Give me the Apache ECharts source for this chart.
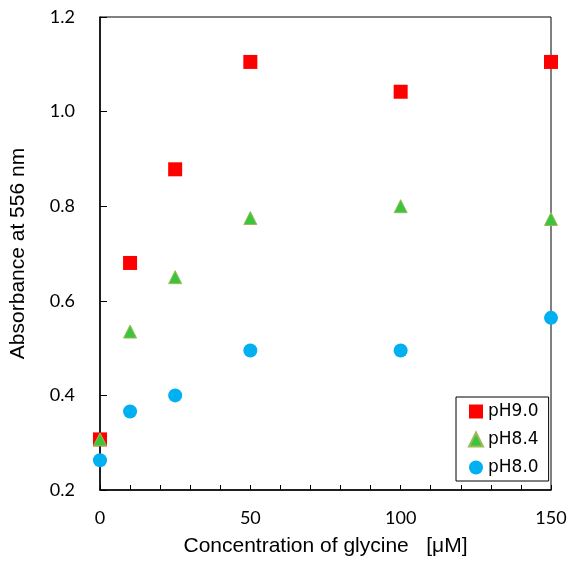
<!DOCTYPE html>
<html>
<head>
<meta charset="utf-8">
<script src="https://cdn.jsdelivr.net/npm/echarts@6/dist/echarts.min.js"></script>
<style>
html,body{margin:0;padding:0;background:#fff;}
#chart{width:574px;height:562px;}
</style>
</head>
<body>
<div id="chart"></div>
<script>
const concentrations = [0, 10, 25, 50, 100, 150];
const pH90 = [0.307, 0.680, 0.878, 1.105, 1.042, 1.105];
const pH84 = [0.307, 0.535, 0.650, 0.775, 0.800, 0.773];
const pH80 = [0.263, 0.366, 0.400, 0.495, 0.495, 0.564];
const seriesNames = ['pH9.0', 'pH8.4', 'pH8.0'];
const xTitle = 'Concentration of glycine   [\u03BCM]';
const yTitle = 'Absorbance at 556 nm';

const pairs = arr => concentrations.map((c, i) => [c, arr[i]]);

const chart = echarts.init(document.getElementById('chart'), null, {renderer: 'canvas'});
chart.setOption({
  animation: false,
  backgroundColor: '#fff',
  grid: {left: 99, top: 17, width: 452, height: 475, show: true, borderColor: '#000', borderWidth: 1, backgroundColor: 'transparent'},
  xAxis: {
    type: 'value', min: 0, max: 150, interval: 10,
    name: xTitle, nameLocation: 'middle', nameGap: 46,
    nameTextStyle: {fontFamily: 'Liberation Sans', fontSize: 21, color: '#000'},
    axisLine: {show: true, lineStyle: {color: '#000', width: 1.5}},
    axisTick: {show: true, inside: true, length: 5, lineStyle: {color: '#000', width: 1}},
    splitLine: {show: false},
    axisLabel: {
      margin: 19, fontFamily: 'Lato', fontSize: 18, color: '#000',
      formatter: v => (v % 50 === 0 ? String(v) : '')
    }
  },
  yAxis: {
    type: 'value', min: 0.2, max: 1.2, interval: 0.2,
    name: yTitle, nameLocation: 'middle', nameGap: 71, nameRotate: 90,
    nameTextStyle: {fontFamily: 'Liberation Sans', fontSize: 21, color: '#000'},
    axisLine: {show: true, lineStyle: {color: '#000', width: 1.5}},
    axisTick: {show: true, inside: true, length: 7, lineStyle: {color: '#000', width: 1}},
    splitLine: {show: false},
    axisLabel: {
      margin: 25, fontFamily: 'Lato', fontSize: 18, color: '#000',
      formatter: v => v.toFixed(1)
    }
  },
  legend: {
    orient: 'vertical', left: 456, top: 397,
    data: seriesNames,
    backgroundColor: '#fff',
    borderColor: '#000', borderWidth: 1, borderRadius: 0,
    padding: [6, 10, 5, 12],
    itemWidth: 14, itemHeight: 14, itemGap: 11,
    textStyle: {fontFamily: 'DejaVu Sans', fontSize: 17, color: '#000'}
  },
  series: [
    {
      name: seriesNames[0], type: 'scatter', data: pairs(pH90), symbol: 'rect', symbolSize: 14,
      itemStyle: {color: '#ff0000', opacity: 1}, clip: false, z: 3
    },
    {
      name: seriesNames[1], type: 'scatter', data: pairs(pH84), symbol: 'triangle', symbolSize: 13,
      itemStyle: {color: '#3cc43c', borderColor: '#9bbb59', borderWidth: 1, opacity: 1}, clip: false, z: 4
    },
    {
      name: seriesNames[2], type: 'scatter', data: pairs(pH80), symbol: 'circle', symbolSize: 14,
      itemStyle: {color: '#00b0f0', opacity: 1}, clip: false, z: 5
    }
  ]
});
</script>
</body>
</html>
